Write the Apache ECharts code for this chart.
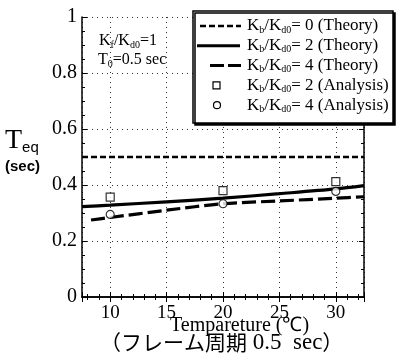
<!DOCTYPE html>
<html>
<head>
<meta charset="utf-8">
<script src="https://cdn.jsdelivr.net/npm/echarts@6/dist/echarts.min.js"></script>
<style>
  html, body { margin: 0; padding: 0; background: #fff; }
  #chart { width: 396px; height: 363px; }
</style>
</head>
<body>
<div id="chart"></div>
<script>
// temperatures (deg C) used by the theory curves
const theoryTemps = [7.5, 10, 15, 20, 25, 30, 32.5];
const theory4Temps = [8.3, 10, 15, 20, 25, 30, 32.5];
const theoryK0 = [0.5, 0.5, 0.5, 0.5, 0.5, 0.5, 0.5];
const theoryK2 = [0.323, 0.328, 0.34, 0.353, 0.369, 0.386, 0.398];
const theoryK4 = [0.275, 0.284, 0.31, 0.333, 0.343, 0.353, 0.358];

// analysis points
const analysisTemps = [10, 20, 30];
const analysisK2 = [0.357, 0.38, 0.412];
const analysisK4 = [0.295, 0.333, 0.377];

const yTicks = [0, 0.2, 0.4, 0.6, 0.8, 1];
const legendLabels = [
  ['0', 'Theory'], ['2', 'Theory'], ['4', 'Theory'], ['2', 'Analysis'], ['4', 'Analysis']
];

const serif = '"Liberation Serif", "DejaVu Serif", serif';
const pair = (xs, ys) => xs.map((x, i) => [x, ys[i]]);

const richK = {
  m: { fontFamily: serif, fontSize: 16, color: '#000', lineHeight: 18 },
  s: { fontFamily: serif, fontSize: 10, color: '#000', verticalAlign: 'bottom', lineHeight: 10, padding: [7, 0, 0, 0] }
};
const richLegend = {
  m: { fontFamily: serif, fontSize: 17, color: '#000', lineHeight: 18 },
  s: { fontFamily: serif, fontSize: 10, color: '#000', verticalAlign: 'bottom', lineHeight: 10, padding: [7, 0, 0, 0] }
};
const legendName = (k, kind) => `{m|K}{s|b}{m|/K}{s|d0}{m|= ${k} (${kind})}`;

const chart = echarts.init(document.getElementById('chart'), null, { renderer: 'canvas' });

const axisCommon = {
  type: 'value',
  axisLine: { show: true, lineStyle: { color: '#000', width: 1.5 } },
  axisTick: { show: true, inside: true, length: 5, lineStyle: { color: '#000', width: 1 } },
  minorTick: { show: true, length: 3, lineStyle: { color: '#000', width: 1 } }
};

// hand-built legend box (icons + labels), placed like the original figure
const legendTop = 11, legendLeft = 193, rowGap = 19.8;
const legendItems = [];
legendItems.push({
  type: 'rect', z: 10,
  shape: { x: legendLeft, y: legendTop, width: 200, height: 112 },
  style: { fill: '#fff', stroke: '#000', lineWidth: 1.5, shadowColor: '#000', shadowOffsetX: 2, shadowOffsetY: 2, shadowBlur: 0 }
});
const rowY = i => legendTop + 15 + i * rowGap;
legendItems.push({ type: 'line', z: 11, shape: { x1: 200, y1: rowY(0), x2: 241, y2: rowY(0) },
  style: { stroke: '#000', lineWidth: 2.5, lineDash: [6, 3] } });
legendItems.push({ type: 'line', z: 11, shape: { x1: 197, y1: rowY(1), x2: 240, y2: rowY(1) },
  style: { stroke: '#000', lineWidth: 3 } });
legendItems.push({ type: 'line', z: 11, shape: { x1: 210, y1: rowY(2), x2: 241, y2: rowY(2) },
  style: { stroke: '#000', lineWidth: 3, lineDash: [14, 4] } });
legendItems.push({ type: 'rect', z: 11, shape: { x: 213, y: rowY(3) - 3.5, width: 7, height: 7 },
  style: { fill: '#fff', stroke: '#000', lineWidth: 1.2 } });
legendItems.push({ type: 'circle', z: 11, shape: { cx: 217, cy: rowY(4), r: 3.5 },
  style: { fill: '#fff', stroke: '#000', lineWidth: 1.2 } });
legendLabels.forEach((lab, i) => {
  legendItems.push({
    type: 'text', z: 11, x: 247, y: rowY(i),
    style: { text: legendName(lab[0], lab[1]), rich: richLegend, verticalAlign: 'middle' }
  });
});

const option = {
  backgroundColor: '#fff',
  animation: false,
  color: ['#000'],
  grid: { left: 82, right: 32, top: 17, bottom: 66 },
  xAxis: [
    Object.assign({}, axisCommon, {
      min: 7.5, max: 32.5, splitNumber: 5,
      minorTick: Object.assign({}, axisCommon.minorTick, { splitNumber: 5 }),
      axisLabel: {
        showMinLabel: false, showMaxLabel: false,
        fontFamily: serif, fontSize: 19, color: '#000', margin: 7
      },
      splitLine: { show: true, lineStyle: { color: '#333', type: [1, 4], width: 1 } }
    }),
    Object.assign({}, axisCommon, {
      position: 'top', min: 7.5, max: 32.5, splitNumber: 5,
      minorTick: Object.assign({}, axisCommon.minorTick, { splitNumber: 5 }),
      axisLabel: { show: false }, splitLine: { show: false }
    })
  ],
  yAxis: [
    Object.assign({}, axisCommon, {
      min: 0, max: 1, interval: 0.2,
      minorTick: Object.assign({}, axisCommon.minorTick, { splitNumber: 4 }),
      axisLabel: {
        fontFamily: serif, fontSize: 20, color: '#000', margin: 5,
        formatter: v => yTicks.includes(+v.toFixed(1)) ? String(+v.toFixed(1)) : ''
      },
      splitLine: { show: true, lineStyle: { color: '#333', type: [1, 4], width: 1 } }
    }),
    Object.assign({}, axisCommon, {
      position: 'right', min: 0, max: 1, interval: 0.2,
      minorTick: Object.assign({}, axisCommon.minorTick, { splitNumber: 4 }),
      axisLabel: { show: false }, splitLine: { show: false }
    })
  ],
  series: [
    {
      name: 'Kb/Kd0=0 (Theory)', type: 'line', symbol: 'none',
      data: pair(theoryTemps, theoryK0),
      lineStyle: { color: '#000', width: 2.5, type: [6, 3] }
    },
    {
      name: 'Kb/Kd0=2 (Theory)', type: 'line', symbol: 'none', smooth: 0.3,
      data: pair(theoryTemps, theoryK2),
      lineStyle: { color: '#000', width: 3.2 }
    },
    {
      name: 'Kb/Kd0=4 (Theory)', type: 'line', symbol: 'none', smooth: 0.3,
      data: pair(theory4Temps, theoryK4),
      lineStyle: { color: '#000', width: 3.2, type: [14, 5] }
    },
    {
      name: 'Kb/Kd0=2 (Analysis)', type: 'scatter', symbol: 'rect', symbolSize: 8,
      data: pair(analysisTemps, analysisK2),
      itemStyle: { color: '#fff', borderColor: '#000', borderWidth: 1.2 },
      z: 5
    },
    {
      name: 'Kb/Kd0=4 (Analysis)', type: 'scatter', symbol: 'circle', symbolSize: 8,
      data: pair(analysisTemps, analysisK4),
      itemStyle: { color: '#fff', borderColor: '#000', borderWidth: 1.2 },
      z: 5
    }
  ],
  graphic: legendItems.concat([
    {
      type: 'text', left: 99, top: 33,
      style: { text: '{m|K}{s|f}{m|/K}{s|d0}{m|=1}', rich: richK }
    },
    {
      type: 'text', left: 98, top: 52,
      style: { text: '{m|T}{s|0}{m|=0.5 sec}', rich: richK }
    },
    {
      type: 'text', left: 5, top: 127,
      style: {
        text: '{T|T}{e|eq}',
        rich: {
          T: { fontFamily: serif, fontSize: 28, color: '#000', lineHeight: 28 },
          e: { fontFamily: '"Liberation Sans", sans-serif', fontSize: 15, color: '#000', verticalAlign: 'bottom', lineHeight: 15, padding: [13, 0, 0, 0] }
        }
      }
    },
    {
      type: 'text', left: 5, top: 159,
      style: { text: '(sec)', font: 'bold 15px "Liberation Sans", sans-serif', fill: '#000' }
    },
    {
      type: 'text', left: 170, top: 316,
      style: { text: 'Tempareture (℃)', font: '20px "Liberation Serif", serif', fill: '#000' }
    },
    {
      type: 'text', left: 100, top: 331,
      style: {
        text: '{j|（フレーム周期}{r| 0.5  sec}{j|）}',
        rich: {
          j: { fontFamily: '"Noto Sans CJK JP", sans-serif', fontSize: 21, color: '#000' },
          r: { fontFamily: serif, fontSize: 23, color: '#000' }
        }
      }
    }
  ])
};

chart.setOption(option);
</script>
</body>
</html>
